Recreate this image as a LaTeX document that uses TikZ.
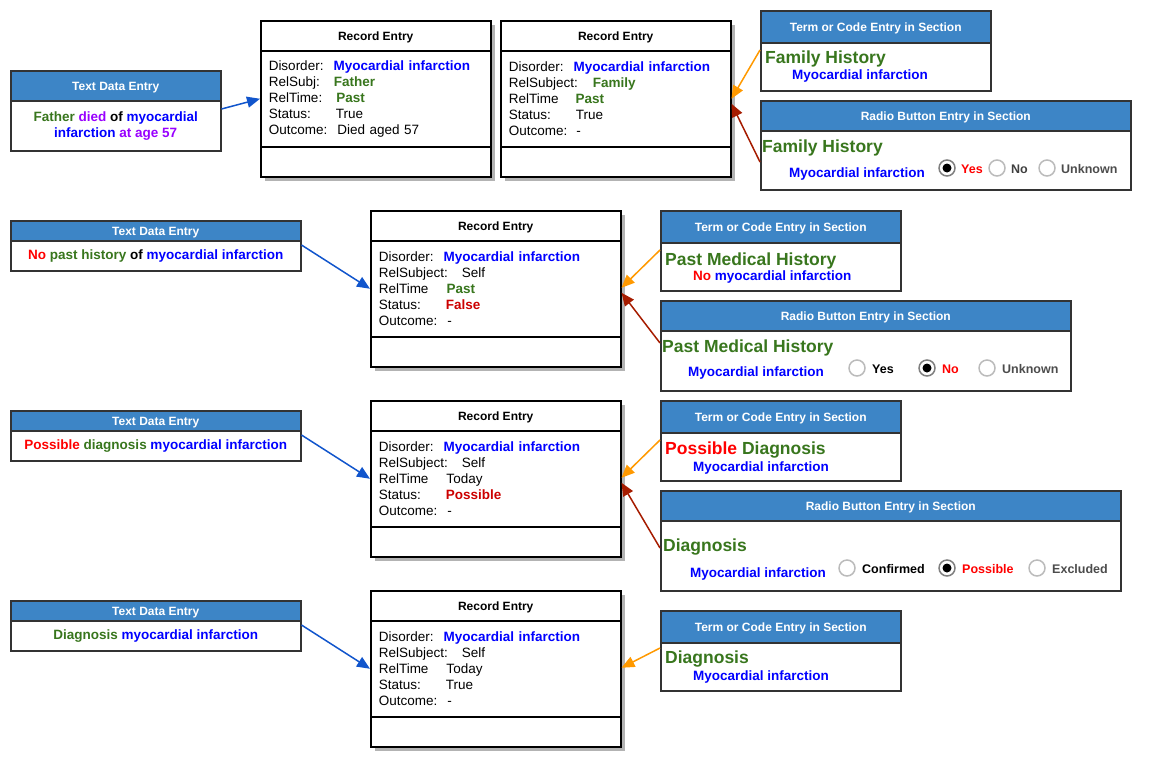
\documentclass[tikz,border=0pt]{standalone}
\usepackage{fontspec}
\setmainfont{Liberation Sans}
\usepackage{xcolor}
\usepackage{tikz}
\usetikzlibrary{arrows.meta,calc,shadows}

\definecolor{hdrblue}{HTML}{3D85C6}
\definecolor{boxgray}{HTML}{333333}
\definecolor{txtgreen}{HTML}{38761D}
\definecolor{txtblue}{HTML}{0000FF}
\definecolor{txtred}{HTML}{FF0000}
\definecolor{txtdarkred}{HTML}{CC0000}
\definecolor{txtpurple}{HTML}{9900FF}
\definecolor{arrblue}{HTML}{1155CC}
\definecolor{arrorange}{HTML}{FF9900}
\definecolor{arrred}{HTML}{A61C00}
\definecolor{radiogray}{HTML}{BBBBBB}
\definecolor{shadowgray}{HTML}{B3B3B3}

\newcommand{\cgreen}[1]{\textcolor{txtgreen}{#1}}
\newcommand{\cblue}[1]{\textcolor{txtblue}{#1}}
\newcommand{\cred}[1]{\textcolor{txtred}{#1}}
\newcommand{\cdred}[1]{\textcolor{txtdarkred}{#1}}
\newcommand{\cpurple}[1]{\textcolor{txtpurple}{#1}}

\begin{document}
\begin{tikzpicture}[x=1pt,y=-1pt,
  hdr/.style={draw=boxgray, line width=1.5pt, fill=hdrblue, text=white, anchor=north west, inner sep=0pt, text height=8.6pt, text depth=0pt, font=\fontsize{12}{14}\selectfont\bfseries},
  entrybody/.style={draw=boxgray, line width=1.5pt, fill=white, anchor=north west, inner sep=0pt},
  tdbody/.style={entrybody, align=center, font=\fontsize{13.5}{16}\selectfont\bfseries},
  rechead/.style={draw=black, line width=1.5pt, fill=white, anchor=north west, inner sep=0pt, drop shadow={shadow xshift=4pt, shadow yshift=-4pt, fill=shadowgray, opacity=1}},
  rectitle/.style={rechead, text height=8.6pt, text depth=0pt, font=\fontsize{12}{14}\selectfont\bfseries},
  recbody/.style={rechead, font=\fontsize{13.5}{16}\selectfont, align=left, inner xsep=8pt, inner ysep=0pt},
  section/.style={anchor=base west, inner sep=0pt, font=\fontsize{17.5}{20}\selectfont\bfseries, text=txtgreen},
  term/.style={anchor=base west, inner sep=0pt, font=\fontsize{13.5}{16}\selectfont\bfseries, text=txtblue},
  choice/.style={anchor=base west, inner sep=0pt, font=\fontsize{12.5}{14}\selectfont\bfseries},
  radio/.style={draw=radiogray, line width=1.5pt, fill=white},
  arrowb/.style={draw=arrblue, line width=1.5pt, -{Triangle[length=13pt,width=11pt]}},
  arrowo/.style={draw=arrorange, line width=1.5pt, -{Triangle[length=13pt,width=11pt]}},
  arrowr/.style={draw=arrred, line width=1.5pt, -{Triangle[length=13pt,width=11pt]}}]
\useasboundingbox (0,0) rectangle (1150,774);

% text data entries
\node[hdr, minimum width=210pt, minimum height=30pt] (td1h) at (10,70) {Text Data Entry};
\node[tdbody, minimum width=210pt, minimum height=50pt] (td1) at (10,100) {\cgreen{Father} \cpurple{died} of \cblue{myocardial}\\\cblue{infarction} \cpurple{at age 57}};
\node[hdr, minimum width=290pt, minimum height=20pt] (td2h) at (10,220) {Text Data Entry};
\node[tdbody, minimum width=290pt, minimum height=30pt] (td2) at (10,240) {\cred{No} \cgreen{past history} of \cblue{myocardial infarction}};
\node[hdr, minimum width=290pt, minimum height=20pt] (td3h) at (10,410) {Text Data Entry};
\node[tdbody, minimum width=290pt, minimum height=30pt] (td3) at (10,430) {\cred{Possible} \cgreen{diagnosis} \cblue{myocardial infarction}};
\node[hdr, minimum width=290pt, minimum height=20pt] (td4h) at (10,600) {Text Data Entry};
\node[tdbody, minimum width=290pt, minimum height=30pt] (td4) at (10,620) {\cgreen{Diagnosis} \cblue{myocardial infarction}};

% record entries
\node[rectitle, minimum width=230pt, minimum height=30pt] (re1h) at (260,20) {Record Entry};
\node[recbody, text width=214pt, minimum height=96pt] (re1) at (260,50) {Disorder:\hspace{10pt}\cblue{\textbf{Myocardial infarction}}\\RelSubj:\hspace{14pt}\cgreen{\textbf{Father}}\\RelTime:\hspace{14pt}\cgreen{\textbf{Past}}\\Status:\hspace{25pt}True\\Outcome:\hspace{10pt}Died aged 57};
\node[rechead, minimum width=230pt, minimum height=30pt] (re1f) at (260,146) {};

\node[rectitle, minimum width=230pt, minimum height=30pt] (re2h) at (500,20) {Record Entry};
\node[recbody, text width=214pt, minimum height=96pt] (re2) at (500,50) {Disorder:\hspace{10pt}\cblue{\textbf{Myocardial infarction}}\\RelSubject:\hspace{15pt}\cgreen{\textbf{Family}}\\RelTime\hspace{17pt}\cgreen{\textbf{Past}}\\Status:\hspace{25pt}True\\Outcome:\hspace{9pt}-};
\node[rechead, minimum width=230pt, minimum height=30pt] (re2f) at (500,146) {};

\node[rectitle, minimum width=250pt, minimum height=30pt] (re3h) at (370,210) {Record Entry};
\node[recbody, text width=234pt, minimum height=96pt] (re3) at (370,240) {Disorder:\hspace{10pt}\cblue{\textbf{Myocardial infarction}}\\RelSubject:\hspace{14pt}Self\\RelTime\hspace{18pt}\cgreen{\textbf{Past}}\\Status:\hspace{25pt}\cdred{\textbf{False}}\\Outcome:\hspace{10pt}-};
\node[rechead, minimum width=250pt, minimum height=30pt] (re3f) at (370,336) {};

\node[rectitle, minimum width=250pt, minimum height=30pt] (re4h) at (370,400) {Record Entry};
\node[recbody, text width=234pt, minimum height=96pt] (re4) at (370,430) {Disorder:\hspace{10pt}\cblue{\textbf{Myocardial infarction}}\\RelSubject:\hspace{14pt}Self\\RelTime\hspace{18pt}Today\\Status:\hspace{25pt}\cdred{\textbf{Possible}}\\Outcome:\hspace{10pt}-};
\node[rechead, minimum width=250pt, minimum height=30pt] (re4f) at (370,526) {};

\node[rectitle, minimum width=250pt, minimum height=30pt] (re5h) at (370,590) {Record Entry};
\node[recbody, text width=234pt, minimum height=96pt] (re5) at (370,620) {Disorder:\hspace{10pt}\cblue{\textbf{Myocardial infarction}}\\RelSubject:\hspace{14pt}Self\\RelTime\hspace{18pt}Today\\Status:\hspace{25pt}True\\Outcome:\hspace{10pt}-};
\node[rechead, minimum width=250pt, minimum height=30pt] (re5f) at (370,716) {};

% term or code entries
\node[hdr, minimum width=230pt, minimum height=32pt] (tc1h) at (760,10) {Term or Code Entry in Section};
\node[entrybody, minimum width=230pt, minimum height=48pt] (tc1) at (760,42) {};
\node[section] (tc1a) at (765,63) {Family History};
\node[term] (tc1b) at (792,79) {Myocardial infarction};

\node[hdr, minimum width=240pt, minimum height=32pt] (tc2h) at (660,210) {Term or Code Entry in Section};
\node[entrybody, minimum width=240pt, minimum height=48pt] (tc2) at (660,242) {};
\node[section] (tc2a) at (665,265) {Past Medical History};
\node[term] (tc2b) at (693,280) {\cred{No} myocardial infarction};

\node[hdr, minimum width=240pt, minimum height=32pt] (tc3h) at (660,400) {Term or Code Entry in Section};
\node[entrybody, minimum width=240pt, minimum height=48pt] (tc3) at (660,432) {};
\node[section] (tc3a) at (665,454) {\cred{Possible} Diagnosis};
\node[term] (tc3b) at (693,471) {Myocardial infarction};

\node[hdr, minimum width=240pt, minimum height=32pt] (tc4h) at (660,610) {Term or Code Entry in Section};
\node[entrybody, minimum width=240pt, minimum height=48pt] (tc4) at (660,642) {};
\node[section] (tc4a) at (665,663) {Diagnosis};
\node[term] (tc4b) at (693,680) {Myocardial infarction};

% radio button entries
\node[hdr, minimum width=370pt, minimum height=30pt] (rb1h) at (760,100) {Radio Button Entry in Section};
\node[entrybody, minimum width=370pt, minimum height=59pt] (rb1) at (760,130) {};
\node[section] (rb1a) at (762,152) {Family History};
\node[term] (rb1b) at (789,177) {Myocardial infarction};
\draw[radio, draw=gray] (947,168) circle[radius=8pt];
\fill (947,168) circle[radius=4.5pt];
\draw[radio] (997,168) circle[radius=8pt];
\draw[radio] (1047,168) circle[radius=8pt];
\node[choice, text=txtred] (rb1y) at (961,173) {Yes};
\node[choice, text=black!75] (rb1n) at (1011,173) {No};
\node[choice, text=black!70] (rb1u) at (1061,173) {Unknown};

\node[hdr, minimum width=410pt, minimum height=30pt] (rb2h) at (660,300) {Radio Button Entry in Section};
\node[entrybody, minimum width=410pt, minimum height=60pt] (rb2) at (660,330) {};
\node[section] (rb2a) at (662,352) {Past Medical History};
\node[term] (rb2b) at (688,376) {Myocardial infarction};
\draw[radio] (857,368) circle[radius=8pt];
\draw[radio, draw=gray] (927,368) circle[radius=8pt];
\fill (927,368) circle[radius=4.5pt];
\draw[radio] (987,368) circle[radius=8pt];
\node[choice] (rb2y) at (872,373) {Yes};
\node[choice, text=txtred] (rb2n) at (942,373) {No};
\node[choice, text=black!70] (rb2u) at (1002,373) {Unknown};

\node[hdr, minimum width=460pt, minimum height=30pt] (rb3h) at (660,490) {Radio Button Entry in Section};
\node[entrybody, minimum width=460pt, minimum height=70pt] (rb3) at (660,520) {};
\node[section] (rb3a) at (663,551) {Diagnosis};
\node[term] (rb3b) at (690,577) {Myocardial infarction};
\draw[radio] (847,568) circle[radius=8pt];
\draw[radio, draw=gray] (947,568) circle[radius=8pt];
\fill (947,568) circle[radius=4.5pt];
\draw[radio] (1037,568) circle[radius=8pt];
\node[choice] (rb3c) at (862,573) {Confirmed};
\node[choice, text=txtred] (rb3p) at (962,573) {Possible};
\node[choice, text=black!70] (rb3e) at (1052,573) {Excluded};

% connectors
\draw[arrowb] ($(td1.north east)+(0,9)$) -- (re1.west);
\draw[arrowb] ($(td2.north east)+(0,5)$) -- (re3.west);
\draw[arrowb] ($(td3.north east)+(0,5)$) -- (re4.west);
\draw[arrowb] ($(td4.north east)+(0,5)$) -- (re5.west);

\draw[arrowo] ($(tc1.north west)+(0,8)$) -- (re2.east);
\draw[arrowr] ($(rb1.north west)+(0,32)$) -- ($(re2.east)+(0,5)$);
\draw[arrowo] ($(tc2.north west)+(0,8)$) -- ($(re3.east)+(0,-1)$);
\draw[arrowr] ($(rb2.north west)+(0,13)$) -- ($(re3.east)+(0,4)$);
\draw[arrowo] ($(tc3.north west)+(0,8)$) -- ($(re4.east)+(0,-1)$);
\draw[arrowr] ($(rb3.north west)+(0,28)$) -- ($(re4.east)+(0,4)$);
\draw[arrowo] ($(tc4.north west)+(0,6)$) -- ($(re5.east)+(0,-1)$);

\end{tikzpicture}
\end{document}
